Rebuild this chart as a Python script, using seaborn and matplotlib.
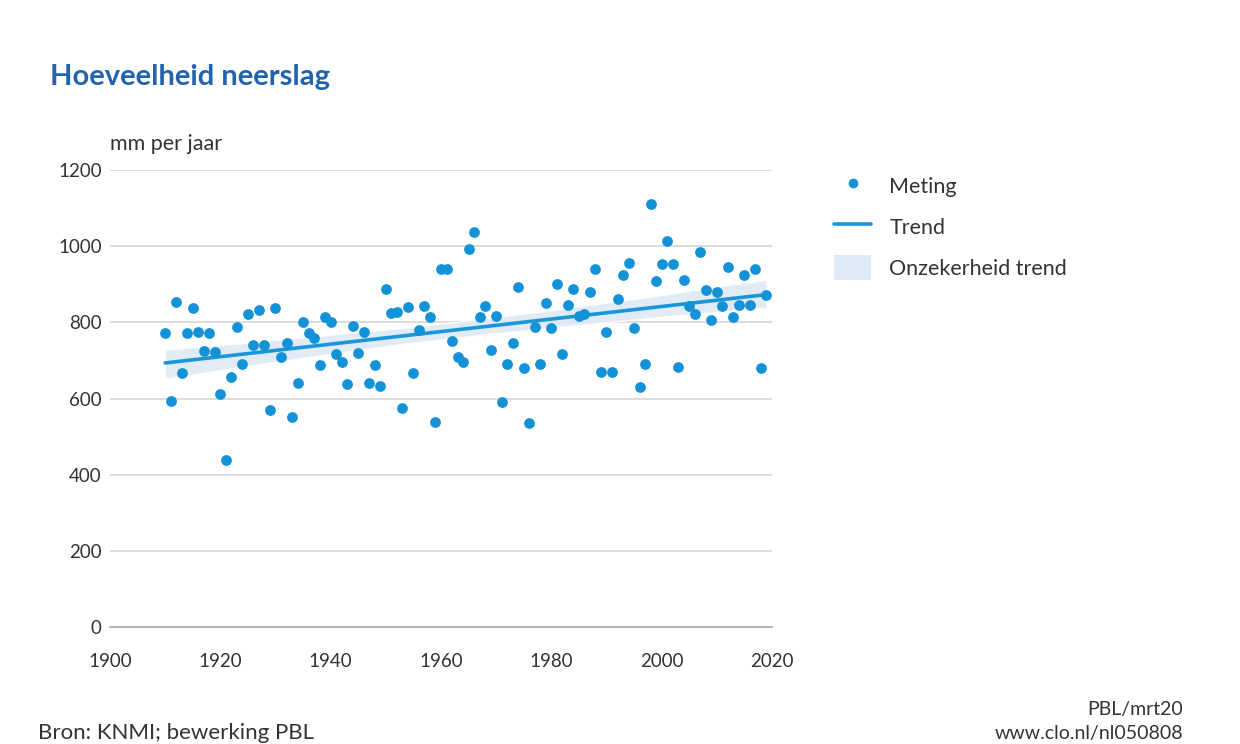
import numpy as np
import pandas as pd
import matplotlib.pyplot as plt
from matplotlib.lines import Line2D
from matplotlib.patches import Patch
from matplotlib.ticker import MultipleLocator
import seaborn as sns

# Jaarlijkse neerslag (mm)
jaren = list(range(1910, 2020))
neerslag = [
    771, 594, 854, 668, 771, 837, 775, 725, 771, 722,   # 1910-1919
    612, 438, 656, 787, 690, 822, 741, 833, 740, 570,   # 1920-1929
    837, 709, 747, 551, 642, 800, 771, 760, 687, 814,   # 1930-1939
    801, 718, 696, 638, 790, 720, 775, 641, 688, 633,   # 1940-1949
    888, 825, 828, 576, 841, 668, 780, 843, 814, 537,   # 1950-1959
    939, 939, 752, 709, 696, 993, 1038, 814, 843, 727,  # 1960-1969
    816, 591, 690, 746, 893, 681, 536, 788, 690, 850,   # 1970-1979
    786, 900, 716, 846, 888, 816, 821, 880, 939, 669,   # 1980-1989
    775, 669, 862, 925, 956, 786, 631, 690, 1110, 909,  # 1990-1999
    954, 1013, 954, 683, 912, 843, 822, 985, 884, 806,  # 2000-2009
    879, 843, 946, 814, 845, 923, 845, 939, 679, 873,   # 2010-2019
]
legend_labels = ['Meting', 'Trend', 'Onzekerheid trend']
x_ticks = [1900, 1920, 1940, 1960, 1980, 2000, 2020]
y_ticks = [0, 200, 400, 600, 800, 1000, 1200]

df = pd.DataFrame({'jaar': jaren, 'neerslag': neerslag})

dot_color = '#1392d8'
line_color = '#1a96d8'
band_color = '#dde9f6'
title_color = '#2263ad'
text_color = '#333333'

sns.set_style('white')
plt.rcParams['font.family'] = ['Lato', 'DejaVu Sans']

fig = plt.figure(figsize=(12.4, 7.44), dpi=100)
ax = fig.add_axes([110 / 1240, 1 - 627 / 744, 662 / 1240, 457 / 744])

# trend + onzekerheid
sns.regplot(data=df, x='jaar', y='neerslag', ax=ax, scatter=False, ci=95,
            seed=1, color=line_color, truncate=True,
            line_kws={'lw': 2.6, 'zorder': 3})
for coll in ax.collections:
    coll.set_facecolor(band_color)
    coll.set_alpha(0.9)
    coll.set_zorder(1)

sns.scatterplot(data=df, x='jaar', y='neerslag', ax=ax, color=dot_color,
                s=60, linewidth=0, zorder=4)

ax.set_xlim(1900, 2020)
ax.set_ylim(0, 1200)
ax.set_xticks(x_ticks)
ax.xaxis.set_minor_locator(MultipleLocator(10))
ax.set_yticks(y_ticks)
ax.set_xlabel('')
ax.set_ylabel('')

ax.yaxis.grid(True, color='#d9d9d9', lw=1.3)
ax.set_axisbelow(True)
for s in ['top', 'right', 'left']:
    ax.spines[s].set_visible(False)
ax.spines['bottom'].set_color('#aaaaaa')
ax.spines['bottom'].set_linewidth(1.2)

ax.tick_params(axis='x', which='both', direction='out', length=9, width=1.1,
               color='#aaaaaa', labelsize=13.5, labelcolor=text_color, pad=10)
ax.tick_params(axis='y', length=0, labelsize=13.5, labelcolor=text_color, pad=6)

ax.text(0, 1.035, 'mm per jaar', transform=ax.transAxes, fontsize=15.5,
        color=text_color, ha='left', va='bottom')

fig.text(50 / 1240, 1 - 77 / 744, 'Hoeveelheid neerslag', fontsize=21,
         fontweight='bold', color=title_color, ha='left', va='center')

handles = [
    Line2D([], [], marker='o', ls='', color=dot_color, markersize=7,
           markeredgewidth=0),
    Line2D([], [], color=line_color, lw=2.6),
    Patch(facecolor=band_color, edgecolor='none'),
]
fig.legend(handles, legend_labels, loc='upper left',
           bbox_to_anchor=(815 / 1240, 1 - 154 / 744), frameon=False,
           fontsize=15.5, labelcolor=text_color, handlelength=1.7,
           handleheight=1.4, labelspacing=0.75, handletextpad=0.85)

fig.text(38 / 1240, 1 - 733 / 744, 'Bron: KNMI; bewerking PBL', fontsize=16,
         color=text_color, ha='left', va='center')
fig.text(1183 / 1240, 1 - 710 / 744, 'PBL/mrt20', fontsize=14,
         color=text_color, ha='right', va='center')
fig.text(1183 / 1240, 1 - 733 / 744, 'www.clo.nl/nl050808', fontsize=14,
         color=text_color, ha='right', va='center')

fig.savefig('out.png', dpi=100)
